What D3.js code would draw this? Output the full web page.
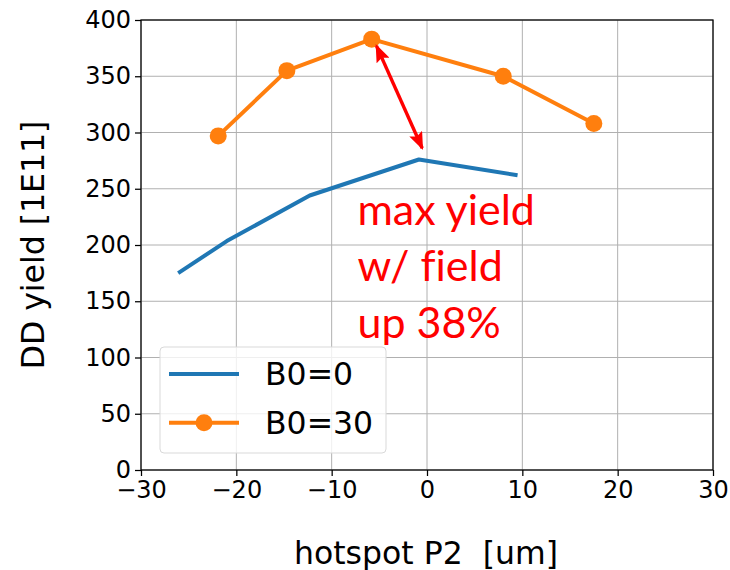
<!DOCTYPE html>
<html>
<head>
<meta charset="utf-8">
<script src="https://cdn.jsdelivr.net/npm/d3@7"></script>
<style>
  html, body { margin: 0; padding: 0; background: #fff; }
  svg { display: block; }
</style>
</head>
<body>
<svg id="chart" width="730" height="570"></svg>
<script>
// Hotspot P2 offset (um) and DD yield (1E11) for each field setting
const b0Zero_x = [-26.1, -21.0, -12.3, -0.85, 9.5];
const b0Zero_y = [175, 203.5, 244, 276, 262];
const b0Thirty_x = [-21.9, -14.7, -5.8, 8.0, 17.5];
const b0Thirty_y = [297, 355, 383, 350, 308];

const seriesNames = ["B0=0", "B0=30"];
const xTicks = [-30, -20, -10, 0, 10, 20, 30];
const yTicks = [0, 50, 100, 150, 200, 250, 300, 350, 400];

// double-headed arrow endpoints (data units) and annotation text
const arrowFrom = [-5.3, 377];
const arrowTo = [-0.5, 286];
const noteAnchor = [-7.3, 218];
const noteLines = ["max yield", "w/ field", "up 38%"];

const svg = d3.select("#chart");
const plotLeft = 141, plotRight = 713, plotTop = 20, plotBottom = 470;

const x = d3.scaleLinear().domain([-30, 30]).range([plotLeft, plotRight]);
const y = d3.scaleLinear().domain([0, 400]).range([plotBottom, plotTop]);

const tickFont = "DejaVu Sans, sans-serif";

// grid
const grid = svg.append("g");
grid.selectAll("line.gx").data(xTicks).join("line")
  .attr("x1", d => x(d)).attr("x2", d => x(d))
  .attr("y1", plotTop).attr("y2", plotBottom)
  .attr("stroke", "#b0b0b0").attr("stroke-width", 1);
grid.selectAll("line.gy").data(yTicks).join("line")
  .attr("y1", d => y(d)).attr("y2", d => y(d))
  .attr("x1", plotLeft).attr("x2", plotRight)
  .attr("stroke", "#b0b0b0").attr("stroke-width", 1);

// series
const blue = "#1f77b4", orange = "#ff7f0e";
const line = d3.line().x(d => x(d[0])).y(d => y(d[1]));
const s0 = b0Zero_x.map((v, i) => [v, b0Zero_y[i]]);
const s1 = b0Thirty_x.map((v, i) => [v, b0Thirty_y[i]]);

svg.append("path").datum(s0).attr("d", line)
  .attr("fill", "none").attr("stroke", blue).attr("stroke-width", 4)
  .attr("stroke-linejoin", "round");
svg.append("path").datum(s1).attr("d", line)
  .attr("fill", "none").attr("stroke", orange).attr("stroke-width", 4)
  .attr("stroke-linejoin", "round");
svg.append("g").selectAll("circle").data(s1).join("circle")
  .attr("cx", d => x(d[0])).attr("cy", d => y(d[1])).attr("r", 8.5)
  .attr("fill", orange);

// spines
svg.append("rect").attr("x", plotLeft).attr("y", plotTop)
  .attr("width", plotRight - plotLeft).attr("height", plotBottom - plotTop)
  .attr("fill", "none").attr("stroke", "#000").attr("stroke-width", 1.25);

// axes
const xAxis = svg.append("g").attr("transform", `translate(0,${plotBottom})`)
  .call(d3.axisBottom(x).tickValues(xTicks).tickSize(6).tickPadding(5));
const yAxis = svg.append("g").attr("transform", `translate(${plotLeft},0)`)
  .call(d3.axisLeft(y).tickValues(yTicks).tickSize(6).tickPadding(4));
[xAxis, yAxis].forEach(g => {
  g.select(".domain").remove();
  g.selectAll(".tick line").attr("stroke", "#000").attr("stroke-width", 1.25);
  g.selectAll(".tick text").attr("font-family", tickFont)
    .attr("font-size", 24).attr("fill", "#000");
});

// axis titles
svg.append("text").attr("x", 426).attr("y", 564)
  .attr("text-anchor", "middle").attr("font-family", tickFont)
  .attr("font-size", 31.5).attr("fill", "#000")
  .attr("xml:space", "preserve").text("hotspot P2  [um]");
svg.append("text")
  .attr("transform", "translate(43.5,245) rotate(-90)")
  .attr("text-anchor", "middle").attr("font-family", tickFont)
  .attr("font-size", 31.5).attr("fill", "#000")
  .text("DD yield [1E11]");

// legend
const lg = svg.append("g");
lg.append("rect").attr("x", 160).attr("y", 347).attr("width", 226).attr("height", 106)
  .attr("rx", 4).attr("fill", "#fff").attr("fill-opacity", 0.8)
  .attr("stroke", "#d9d9d9").attr("stroke-width", 1);
const colors = [blue, orange];
seriesNames.forEach((name, i) => {
  const yy = 374 + i * 48.7;
  lg.append("line").attr("x1", 169).attr("x2", 239).attr("y1", yy).attr("y2", yy)
    .attr("stroke", colors[i]).attr("stroke-width", 4);
  if (i === 1) lg.append("circle").attr("cx", 204).attr("cy", yy).attr("r", 8.5).attr("fill", orange);
  lg.append("text").attr("x", 265).attr("y", yy + 11)
    .attr("font-family", tickFont).attr("font-size", 31.5).attr("fill", "#000").text(name);
});

// double-headed arrow
const defs = svg.append("defs");
defs.append("marker").attr("id", "head").attr("viewBox", "0 0 18 14")
  .attr("refX", 16).attr("refY", 7).attr("markerWidth", 18).attr("markerHeight", 14)
  .attr("markerUnits", "userSpaceOnUse").attr("orient", "auto-start-reverse")
  .append("path").attr("d", "M0,0 L18,7 L0,14 L3,7 z").attr("fill", "#ff0000");
svg.append("line")
  .attr("x1", x(arrowFrom[0])).attr("y1", y(arrowFrom[1]))
  .attr("x2", x(arrowTo[0])).attr("y2", y(arrowTo[1]))
  .attr("stroke", "#ff0000").attr("stroke-width", 3.4)
  .attr("marker-start", "url(#head)").attr("marker-end", "url(#head)");

// annotation
const note = svg.append("text").attr("font-family", "Lato, 'Open Sans', sans-serif")
  .attr("font-size", 43).attr("fill", "#ff0000")
  .style("font-variant-ligatures", "none");
noteLines.forEach((t, i) => {
  note.append("tspan").attr("x", x(noteAnchor[0])).attr("y", y(noteAnchor[1]) + i * 56.5).text(t);
});
</script>
</body>
</html>
